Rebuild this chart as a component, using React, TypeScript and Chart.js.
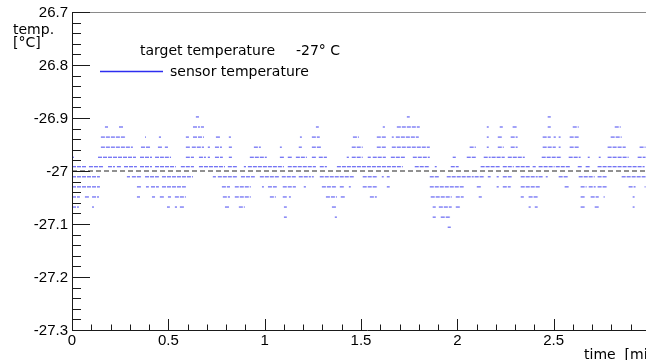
import { useEffect, useRef } from "react";
import { Chart, registerables } from "chart.js";

Chart.register(...registerables);

// Axis ranges and tick labels
const timeMin = 0;
const timeMax = 3;
const tempMin = -27.3;
const tempMax = -26.7;
const xTickValues = [0, 0.5, 1, 1.5, 2, 2.5];
const xTickLabels = ["0", "0.5", "1", "1.5", "2", "2.5"];
const yTickValues = [-27.3, -27.2, -27.1, -27, -26.9, -26.8, -26.7];
const yTickLabels = ["-27.3", "-27.2", "-27.1", "-27", "-26.9", "26.8", "26.7"];

const targetTemperature = -27;

// Sensor readout levels (°C) — the sensor is quantised in steps of ~0.019 °C
const sensorLevels = [
  -26.898, -26.917, -26.936, -26.955, -26.974, -26.992,
  -27.011, -27.03, -27.049, -27.068, -27.087, -27.106,
];

// Time spans [start, end] in minutes during which readings sit at each level
const runsL0 = [[0.643, 0.659], [1.738, 1.753], [2.469, 2.485]];
const runsL1 = [[0.171, 0.187], [0.244, 0.265], [0.628, 0.664], [0.669, 0.685], [1.266, 1.281], [1.613, 1.624], [1.686, 1.805], [2.153, 2.163], [2.22, 2.236], [2.287, 2.313], [2.469, 2.485], [2.599, 2.63], [2.817, 2.848]];
const runsL2 = [[0.15, 0.28], [0.379, 0.384], [0.451, 0.462], [0.591, 0.607], [0.628, 0.685], [0.747, 0.768], [0.814, 0.825], [1.183, 1.193], [1.245, 1.286], [1.458, 1.489], [1.582, 1.629], [1.66, 1.67], [1.681, 1.8], [2.153, 2.163], [2.21, 2.236], [2.277, 2.313], [2.443, 2.485], [2.5, 2.511], [2.526, 2.536], [2.583, 2.63], [2.796, 2.853]];
const runsL3 = [[0.15, 0.316], [0.358, 0.41], [0.446, 0.467], [0.482, 0.498], [0.591, 0.612], [0.622, 0.685], [0.705, 0.716], [0.742, 0.778], [0.814, 0.83], [0.944, 0.98], [1.079, 1.089], [1.177, 1.193], [1.245, 1.292], [1.452, 1.509], [1.582, 1.629], [1.66, 1.857], [2.064, 2.096], [2.153, 2.163], [2.21, 2.241], [2.277, 2.313], [2.443, 2.511], [2.526, 2.536], [2.583, 2.63], [2.78, 2.874], [2.946, 2.977]];
const runsL4 = [[0, 0.01], [0.135, 0.332], [0.353, 0.415], [0.431, 0.477], [0.482, 0.514], [0.591, 0.633], [0.659, 0.695], [0.705, 0.716], [0.742, 0.783], [0.814, 0.83], [0.923, 1.011], [1.079, 1.1], [1.12, 1.146], [1.162, 1.219], [1.245, 1.271], [1.281, 1.323], [1.426, 1.437], [1.452, 1.509], [1.535, 1.551], [1.561, 1.629], [1.655, 1.732], [1.769, 1.857], [1.976, 1.992], [2.049, 2.101], [2.137, 2.173], [2.178, 2.246], [2.262, 2.35], [2.438, 2.542], [2.578, 2.64], [2.677, 2.687], [2.734, 2.744], [2.78, 2.889], [2.936, 2.977]];
const runsL5 = [[0, 0.078], [0.088, 0.166], [0.187, 0.223], [0.233, 0.254], [0.27, 0.337], [0.353, 0.415], [0.431, 0.539], [0.565, 0.633], [0.659, 0.794], [0.809, 0.861], [0.892, 0.903], [0.913, 1.1], [1.12, 1.266], [1.286, 1.323], [1.375, 1.717], [1.779, 1.857], [1.883, 1.893], [1.966, 2.007], [2.121, 2.225], [2.236, 2.293], [2.303, 2.376], [2.391, 2.407], [2.422, 2.505], [2.511, 2.588], [2.625, 2.651], [2.666, 2.692], [2.728, 2.972]];
const runsL6 = [[0, 0.145], [0.285, 0.301], [0.311, 0.363], [0.379, 0.451], [0.467, 0.628], [0.731, 0.747], [0.757, 0.861], [0.877, 0.949], [0.975, 1.079], [1.089, 1.162], [1.177, 1.24], [1.245, 1.255], [1.286, 1.463], [1.509, 1.587], [1.608, 1.618], [1.634, 1.649], [1.857, 1.909], [1.945, 2.085], [2.09, 2.142], [2.158, 2.173], [2.204, 2.215], [2.236, 2.282], [2.329, 2.417], [2.422, 2.443], [2.459, 2.469], [2.526, 2.578], [2.63, 2.713], [2.728, 2.775], [2.853, 2.977]];
const runsL7 = [[0, 0.145], [0.337, 0.363], [0.384, 0.399], [0.41, 0.451], [0.467, 0.591], [0.778, 0.82], [0.845, 0.928], [0.986, 0.996], [1.017, 1.063], [1.094, 1.162], [1.203, 1.214], [1.297, 1.375], [1.39, 1.416], [1.437, 1.447], [1.509, 1.587], [1.634, 1.649], [1.857, 2.033], [2.101, 2.127], [2.204, 2.215], [2.236, 2.277], [2.329, 2.428], [2.557, 2.578], [2.64, 2.671], [2.682, 2.718], [2.728, 2.78], [2.889, 2.925], [2.972, 2.977]];
const runsL8 = [[0, 0.041], [0.067, 0.088], [0.104, 0.14], [0.337, 0.353], [0.415, 0.431], [0.456, 0.477], [0.498, 0.514], [0.534, 0.591], [0.783, 0.82], [0.845, 0.928], [1.027, 1.058], [1.094, 1.115], [1.126, 1.136], [1.318, 1.375], [1.395, 1.416], [1.546, 1.582], [1.862, 1.971], [1.992, 2.033], [2.111, 2.127], [2.329, 2.345], [2.37, 2.422], [2.64, 2.666], [2.692, 2.734], [2.759, 2.765], [2.91, 2.92]];
const runsL9 = [[0, 0.036], [0.104, 0.114], [0.493, 0.508], [0.534, 0.545], [0.56, 0.586], [0.794, 0.82], [0.866, 0.897], [1.1, 1.115], [1.349, 1.375], [1.872, 1.888], [1.904, 1.971], [1.992, 2.018], [2.37, 2.381], [2.402, 2.417], [2.64, 2.666], [2.713, 2.734], [2.91, 2.92]];
const runsL10 = [[1.1, 1.115], [1.364, 1.375], [1.872, 1.888], [1.914, 1.966]];
const runsL11 = [[1.95, 1.966]];

const levelRuns = [runsL0, runsL1, runsL2, runsL3, runsL4, runsL5, runsL6, runsL7, runsL8, runsL9, runsL10, runsL11];

const SENSOR_COLOR = "rgba(50, 50, 238, 0.9)";
const LEGEND_LINE_COLOR = "rgb(45, 45, 240)";
const TICK_FONT = "15px 'Liberation Sans', Arial, sans-serif";
const TEXT_FONT = "14px 'DejaVu Sans', Verdana, sans-serif";

// One line dataset with gaps between the runs
function buildSensorData() {
  const pts: ({ x: number; y: number | null })[] = [];
  levelRuns.forEach((runs, i) => {
    const level = sensorLevels[i];
    runs.forEach(([a, b]) => {
      pts.push({ x: a, y: level });
      pts.push({ x: b, y: level });
      pts.push({ x: (a + b) / 2, y: null });
    });
  });
  return pts;
}

// ROOT-style frame: inward ticks, labels, titles and the legend
const frameAndLegend = {
  id: "frameAndLegend",
  afterDraw(chart: any) {
    const ctx: CanvasRenderingContext2D = chart.ctx;
    const { left, top, bottom } = chart.chartArea;
    const xs = chart.scales.x;
    const ys = chart.scales.y;
    const W = chart.width;
    ctx.save();
    ctx.setLineDash([]);

    // top frame
    ctx.strokeStyle = "#8a8a8a";
    ctx.lineWidth = 1;
    ctx.beginPath();
    ctx.moveTo(left, top + 0.5);
    ctx.lineTo(W, top + 0.5);
    ctx.stroke();

    // axes
    ctx.strokeStyle = "#1a1a1a";
    ctx.beginPath();
    ctx.moveTo(left + 0.5, top);
    ctx.lineTo(left + 0.5, bottom + 0.5);
    ctx.lineTo(W, bottom + 0.5);
    ctx.stroke();

    // y ticks every 0.02, major every 0.1
    ctx.beginPath();
    for (let i = 0; i <= 30; i++) {
      const v = tempMin + i * 0.02;
      const py = Math.round(ys.getPixelForValue(v)) + 0.5;
      const len = i % 5 === 0 ? 18 : 9;
      ctx.moveTo(left, py);
      ctx.lineTo(left + len, py);
    }
    // x ticks every 0.1, major every 0.5
    for (let i = 0; i <= 30; i++) {
      const v = timeMin + i * 0.1;
      const px = Math.round(xs.getPixelForValue(v)) + 0.5;
      const len = i % 5 === 0 ? 11 : 5.5;
      ctx.moveTo(px, bottom);
      ctx.lineTo(px, bottom - len);
    }
    ctx.stroke();

    // tick labels
    ctx.fillStyle = "#000";
    ctx.font = TICK_FONT;
    ctx.textAlign = "right";
    ctx.textBaseline = "middle";
    yTickValues.forEach((v, i) => {
      ctx.fillText(yTickLabels[i], left - 4, ys.getPixelForValue(v) + 0.5);
    });
    ctx.textAlign = "center";
    ctx.textBaseline = "top";
    xTickValues.forEach((v, i) => {
      ctx.fillText(xTickLabels[i], xs.getPixelForValue(v), bottom + 3);
    });

    // axis titles
    ctx.font = TEXT_FONT;
    ctx.textAlign = "left";
    ctx.textBaseline = "alphabetic";
    ctx.fillText("temp.", 13, 34);
    ctx.fillText("[°C]", 13, 47);
    ctx.fillText("time  [min]", 584, 359);

    // legend
    ctx.fillText("target temperature", 140, 55);
    ctx.fillText("-27° C", 296, 55);
    ctx.strokeStyle = LEGEND_LINE_COLOR;
    ctx.lineWidth = 1.4;
    ctx.beginPath();
    ctx.moveTo(100, 71.5);
    ctx.lineTo(163, 71.5);
    ctx.stroke();
    ctx.fillText("sensor temperature", 170, 76);

    ctx.restore();
  },
};

export default function App() {
  const canvasRef = useRef<HTMLCanvasElement | null>(null);

  useEffect(() => {
    const canvas = canvasRef.current;
    if (!canvas) return;
    const chart = new Chart(canvas, {
      type: "line",
      data: {
        datasets: [
          {
            label: "sensor temperature",
            data: buildSensorData() as any,
            borderColor: SENSOR_COLOR,
            borderWidth: 1,
            borderDash: [4, 1],
            pointRadius: 0,
            spanGaps: false,
            tension: 0,
          },
          {
            label: "target temperature",
            data: [
              { x: timeMin, y: targetTemperature },
              { x: timeMax, y: targetTemperature },
            ] as any,
            borderColor: "#222",
            borderWidth: 1,
            borderDash: [5, 3],
            pointRadius: 0,
          },
        ],
      },
      options: {
        animation: false,
        responsive: false,
        devicePixelRatio: 1,
        layout: { padding: { left: 72, top: 12, right: 12, bottom: 30 } },
        scales: {
          x: { type: "linear", min: timeMin, max: timeMax, display: false },
          y: { type: "linear", min: tempMin, max: tempMax, display: false },
        },
        plugins: {
          legend: { display: false },
          tooltip: { enabled: false },
        },
      },
      plugins: [frameAndLegend],
    });
    return () => chart.destroy();
  }, []);

  return (
    <div
      style={{
        position: "fixed",
        left: 0,
        top: 0,
        width: 646,
        height: 360,
        overflow: "hidden",
        background: "#fff",
      }}
    >
      <canvas ref={canvasRef} width={662} height={360} style={{ display: "block" }} />
    </div>
  );
}
